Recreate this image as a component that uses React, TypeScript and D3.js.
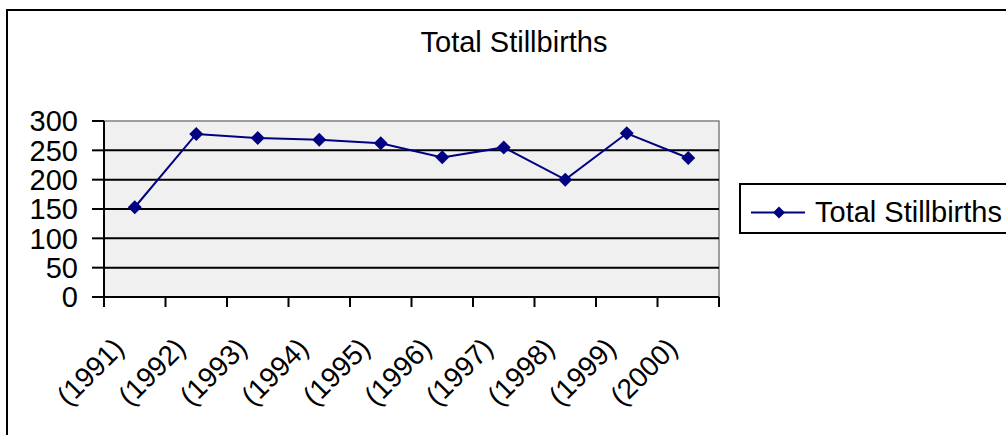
import React from "react";
import * as d3 from "d3";

const categories = ["(1991)", "(1992)", "(1993)", "(1994)", "(1995)", "(1996)", "(1997)", "(1998)", "(1999)", "(2000)"];
const stillbirths = [153, 278, 271, 268, 262, 238, 255, 200, 279, 237];
const yTicks = [0, 50, 100, 150, 200, 250, 300];
const seriesName = "Total Stillbirths";
const chartTitle = "Total Stillbirths";

const W = 1006;
const H = 435;
const plot = { left: 104, right: 719, top: 121, bottom: 297 };
const FONT = "'Liberation Sans', Arial, sans-serif";
const NAVY = "#000080";

function diamond(cx: number, cy: number, r: number) {
  return `M${cx},${cy - r}L${cx + r},${cy}L${cx},${cy + r}L${cx - r},${cy}Z`;
}

export default function App() {
  const x = d3.scaleBand<string>().domain(categories).range([plot.left, plot.right]).padding(0);
  const y = d3.scaleLinear().domain([0, 300]).range([plot.bottom, plot.top]);
  const cx = (c: string) => (x(c) as number) + x.bandwidth() / 2;
  const line = d3
    .line<number>()
    .x((_, i) => cx(categories[i]))
    .y((d) => y(d));
  const boundaries = categories.map((c) => x(c) as number).concat([plot.right]);

  return (
    <svg
      width={W}
      height={H}
      style={{ position: "absolute", left: 0, top: 0, background: "#fff" }}
      fontFamily={FONT}
    >
      {/* outer chart border */}
      <path d={`M7,${H + 5}V10H${W + 5}`} fill="none" stroke="#000" strokeWidth={2} />
      <text x={514} y={52} textAnchor="middle" fontSize={29} fill="#000">
        {chartTitle}
      </text>

      {/* plot area */}
      <rect
        x={plot.left}
        y={plot.top}
        width={plot.right - plot.left}
        height={plot.bottom - plot.top}
        fill="#f0f0f0"
        stroke="#808080"
        strokeWidth={1.5}
      />
      {yTicks.filter((t) => t > 0 && t < 300).map((t) => (
        <line key={"g" + t} x1={plot.left} x2={plot.right} y1={y(t)} y2={y(t)} stroke="#000" strokeWidth={2} />
      ))}
      {/* axes */}
      <line x1={plot.left} x2={plot.left} y1={plot.top} y2={plot.bottom} stroke="#000" strokeWidth={2} />
      <line x1={plot.left} x2={plot.right} y1={plot.bottom} y2={plot.bottom} stroke="#000" strokeWidth={2} />
      {yTicks.map((t) => (
        <g key={"y" + t}>
          <line x1={plot.left - 12} x2={plot.left} y1={y(t)} y2={y(t)} stroke="#000" strokeWidth={2} />
          <text x={78} y={y(t)} dy="0.36em" textAnchor="end" fontSize={29} fill="#000">
            {t}
          </text>
        </g>
      ))}
      {boundaries.map((b, i) => (
        <line key={"xt" + i} x1={b} x2={b} y1={plot.bottom} y2={plot.bottom + 10} stroke="#000" strokeWidth={2} />
      ))}
      {categories.map((c) => {
        const ax = cx(c) - 16;
        const ay = 343;
        return (
          <text
            key={"xl" + c}
            x={ax}
            y={ay}
            dy="0.35em"
            textAnchor="end"
            fontSize={28}
            fill="#000"
            transform={`rotate(-45 ${ax} ${ay})`}
          >
            {c}
          </text>
        );
      })}

      {/* series */}
      <path d={line(stillbirths) || ""} fill="none" stroke={NAVY} strokeWidth={2} />
      {stillbirths.map((v, i) => (
        <path key={"m" + i} d={diamond(cx(categories[i]), y(v), 7)} fill={NAVY} />
      ))}

      {/* legend */}
      <rect x={740} y={184} width={280} height={49} fill="#fff" stroke="#000" strokeWidth={2} />
      <line x1={751} x2={805} y1={212.5} y2={212.5} stroke={NAVY} strokeWidth={2} />
      <path d={diamond(779, 212.5, 6)} fill={NAVY} />
      <text x={815} y={222} fontSize={29} fill="#000">
        {seriesName}
      </text>
    </svg>
  );
}
